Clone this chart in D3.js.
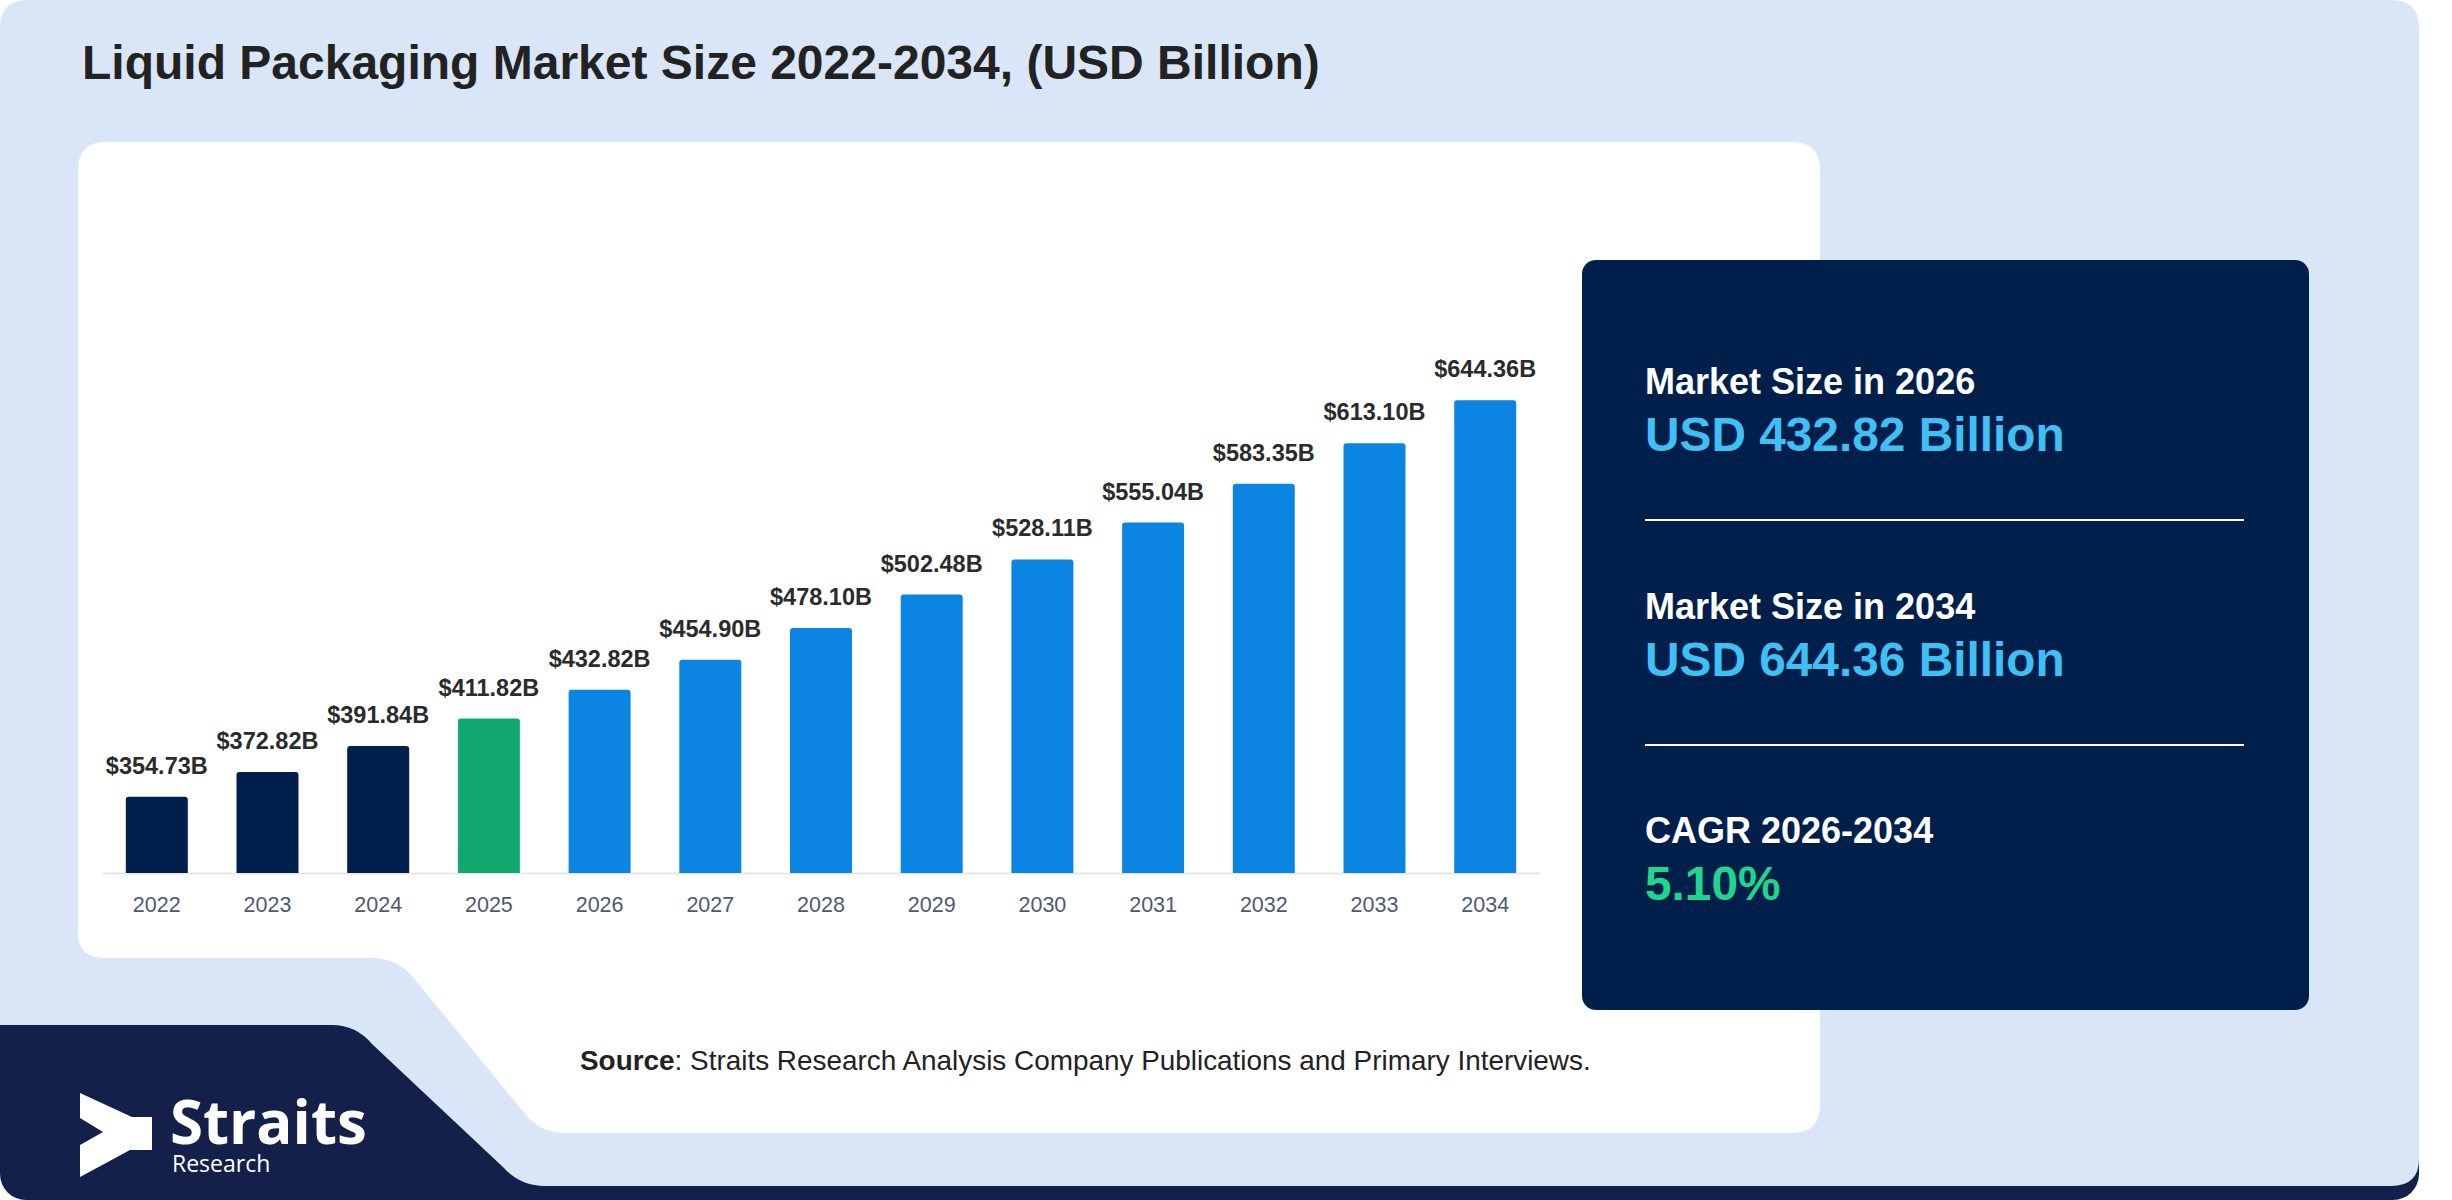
<!DOCTYPE html>
<html>
<head>
<meta charset="utf-8">
<script src="https://cdn.jsdelivr.net/npm/d3@7"></script>
<style>
  html, body { margin: 0; padding: 0; background: #ffffff; }
  svg { display: block; font-family: "Liberation Sans", Arial, sans-serif; }
</style>
</head>
<body>
<div id="chart"></div>
<script>
// Dane wykresu
const years = ["2022", "2023", "2024", "2025", "2026", "2027", "2028", "2029", "2030", "2031", "2032", "2033", "2034"];
const values = [354.73, 372.82, 391.84, 411.82, 432.82, 454.9, 478.1, 502.48, 528.11, 555.04, 583.35, 613.1, 644.36];
const baseYear = "2025";

const statLabels = ["Market Size in 2026", "Market Size in 2034", "CAGR 2026-2034"];
const statValues = ["USD 432.82 Billion", "USD 644.36 Billion", "5.10%"];

const W = 2452, H = 1200;

const colors = {
  bg: "#d9e6f8",
  navy: "#011f4b",
  logoNavy: "#13204a",
  green: "#10a86f",
  blue: "#0b84e2",
  label: "#2b2b2b",
  tick: "#4e5a6c",
  statBlue: "#3fbff4",
  statGreen: "#1fd68d",
};

const svg = d3.select("#chart").append("svg").attr("width", W).attr("height", H);

// --- tło: pasek z logo + jasnoniebieska karta ---
svg.append("rect")
  .attr("x", 0).attr("y", 1000)
  .attr("width", 2419).attr("height", 200)
  .attr("rx", 26)
  .attr("fill", colors.logoNavy);

svg.append("path")
  .attr("fill", colors.bg)
  .attr("d",
    "M28,0 L2391,0 Q2419,0 2419,28 L2419,1159 Q2419,1186 2391,1186 " +
    "L545,1186 Q520,1186 504,1168 L372,1044 Q356,1025 332,1025 L0,1025 L0,28 Q0,0 28,0 Z");

// biała karta z wycięciem na logo
svg.append("path")
  .attr("fill", "#ffffff")
  .attr("d",
    "M106,142 L1792,142 Q1820,142 1820,170 L1820,1105 Q1820,1133 1792,1133 " +
    "L566,1133 Q541,1133 526,1115 L412,976 Q396,958 372,958 L104,958 Q78,958 78,932 L78,170 Q78,142 106,142 Z");

// Tytuł
svg.append("text")
  .attr("x", 82).attr("y", 79)
  .attr("font-size", 48).attr("font-weight", "bold")
  .attr("fill", "#222222")
  .text("Liquid Packaging Market Size 2022-2034, (USD Billion)");

// --- wykres słupkowy ---
const x = d3.scaleBand()
  .domain(years)
  .range([102, 1540])
  .paddingInner(0.44)
  .paddingOuter(0.215);

const y = d3.scaleLinear()
  .domain([299, 700])
  .range([873, 324.2]);

const barColor = (yr) => (yr < baseYear ? colors.navy : yr === baseYear ? colors.green : colors.blue);

const plot = svg.append("g");

// oś X
const xAxis = plot.append("g")
  .attr("transform", "translate(0,873)")
  .call(d3.axisBottom(x).tickSize(0).tickPadding(24));
xAxis.select(".domain").attr("stroke", "#e6e6e6").attr("stroke-width", 2);
xAxis.selectAll("text")
  .attr("font-family", "Liberation Sans, Arial, sans-serif")
  .attr("font-size", 21.5)
  .attr("fill", colors.tick);

const data = years.map((yr, i) => ({ year: yr, value: values[i] }));

// słupki z lekko zaokrąglonym wierzchem
const r = 3;
plot.append("g")
  .selectAll("path")
  .data(data)
  .enter()
  .append("path")
  .attr("fill", (d) => barColor(d.year))
  .attr("d", (d) => {
    const x0 = x(d.year), w = x.bandwidth(), y0 = y(d.value), y1 = y(y.domain()[0]);
    return `M${x0},${y1} L${x0},${y0 + r} Q${x0},${y0} ${x0 + r},${y0} L${x0 + w - r},${y0} ` +
      `Q${x0 + w},${y0} ${x0 + w},${y0 + r} L${x0 + w},${y1} Z`;
  });

// etykiety wartości
plot.append("g")
  .selectAll("text")
  .data(data)
  .enter()
  .append("text")
  .attr("x", (d) => x(d.year) + x.bandwidth() / 2)
  .attr("y", (d) => y(d.value) - 23)
  .attr("text-anchor", "middle")
  .attr("font-size", 23.5)
  .attr("font-weight", "bold")
  .attr("fill", colors.label)
  .text((d) => `$${d.value.toFixed(2)}B`);

// --- panel z podsumowaniem ---
const panel = svg.append("g");
panel.append("rect")
  .attr("x", 1582).attr("y", 260)
  .attr("width", 727).attr("height", 750)
  .attr("rx", 14)
  .attr("fill", colors.navy);

const statTop = [394, 619, 843];
statLabels.forEach((lbl, i) => {
  panel.append("text")
    .attr("x", 1645).attr("y", statTop[i])
    .attr("font-size", 36).attr("font-weight", "bold")
    .attr("fill", "#ffffff")
    .text(lbl);
  panel.append("text")
    .attr("x", 1645).attr("y", statTop[i] + 57)
    .attr("font-size", 47.8).attr("font-weight", "bold")
    .attr("fill", i === 2 ? colors.statGreen : colors.statBlue)
    .text(statValues[i]);
  if (i < 2) {
    panel.append("line")
      .attr("x1", 1645).attr("x2", 2244)
      .attr("y1", statTop[i] + 126).attr("y2", statTop[i] + 126)
      .attr("stroke", "#ffffff").attr("stroke-width", 2);
  }
});

// Źródło
const src = svg.append("text")
  .attr("x", 580).attr("y", 1070)
  .attr("font-size", 27.9)
  .attr("fill", "#222222");
src.append("tspan").attr("font-weight", "bold").text("Source");
src.append("tspan").text(": Straits Research Analysis Company Publications and Primary Interviews.");

// Logo (jeden element tekstowy, dwie linie)
const logo = svg.append("g");
logo.append("path")
  .attr("fill", "#ffffff")
  .attr("d", "M80,1093 L132,1117 L152,1117 L152,1150 L130,1150 L80,1177 L80,1145 L103,1132 L80,1118 Z");
const logoText = logo.append("text")
  .attr("font-family", "Open Sans, sans-serif")
  .attr("fill", "#ffffff");
logoText.append("tspan")
  .attr("x", 170).attr("y", 1144)
  .attr("font-size", 60).attr("font-weight", "bold")
  .text("Straits");
logoText.append("tspan")
  .attr("x", 172).attr("y", 1172)
  .attr("font-size", 23)
  .text("Research");
</script>
</body>
</html>
